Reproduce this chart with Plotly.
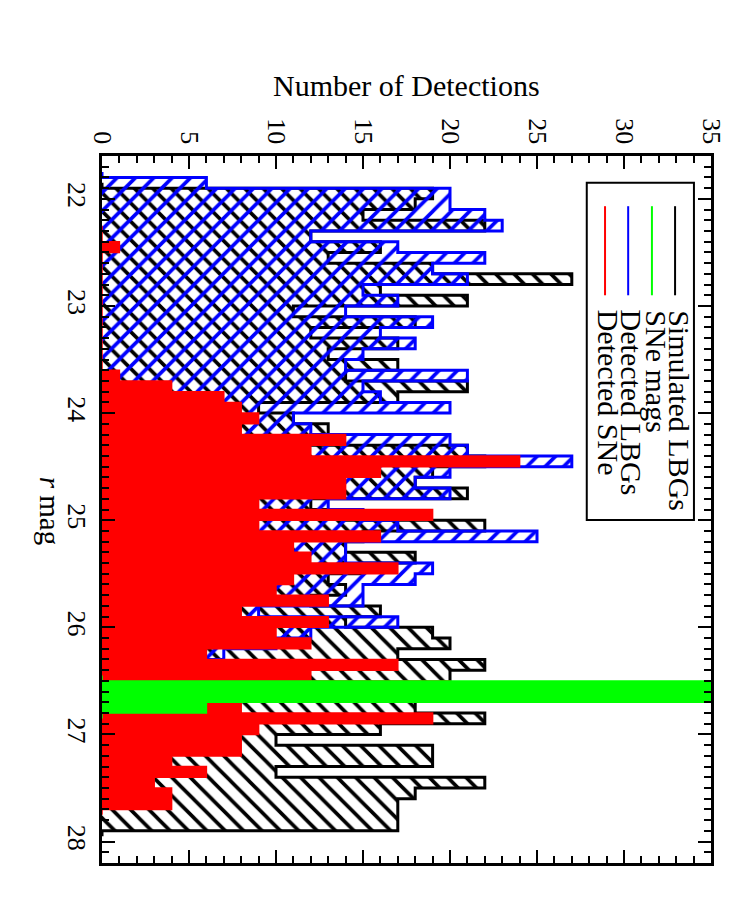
import numpy as np
import plotly.graph_objects as go

# histogram bin width in r mag; each series: lower edge of first bin + counts per bin
BIN = 0.1

lbg_sim_start = 21.9
lbg_sim_counts = [19, 18, 15, 22, 12, 16, 13, 19, 27, 16, 21, 11, 18, 12, 17, 13, 17, 14,
                  21, 17, 9, 11, 13, 12, 21, 22, 19, 18, 21, 12, 14, 22, 15, 14, 18, 15,
                  13, 14, 12, 16, 14, 19, 20, 17, 22, 20, 20, 18, 18, 22, 16, 10, 19, 19,
                  10, 22, 18, 17, 17, 17]

lbg_det_start = 21.8
lbg_det_counts = [6, 20, 20, 22, 23, 12, 17, 22, 19, 21, 15, 17, 14, 19, 16, 18, 15, 14,
                  21, 15, 16, 20, 11, 12, 20, 21, 27, 20, 18, 20, 13, 15, 17, 25, 14, 14,
                  19, 18, 15, 15, 9, 17, 12, 10, 7, 4, 2]

sne_mag_start = 26.5
sne_mag_counts = [60, 60, 6]

sne_det_start = 22.3
sne_det_counts = [0, 1, 0, 0, 0, 0, 0, 0, 0, 0, 0, 0, 0, 1, 4, 7, 8, 9, 8, 14, 12, 24,
                  16, 14, 14, 9, 19, 9, 16, 11, 12, 17, 11, 10, 13, 8, 13, 10, 12, 6,
                  17, 12, 20, 15, 8, 19, 9, 8, 8, 4, 6, 3, 4, 4]

FONT = "Liberation Serif"


def step_hist(start, counts, **kw):
    """Outlined step histogram (horizontal, counts along x) drawn as a filled scatter."""
    n = len(counts)
    centers = start + BIN / 2 + BIN * np.arange(n)
    y = np.concatenate([[centers[0] - BIN], centers, [centers[-1] + BIN]])
    x = [0] + list(counts) + [0]
    return go.Scatter(x=x, y=y, mode="lines", fill="tozerox",
                      hoverinfo="skip", showlegend=False, **kw)


fig = go.Figure()

fig.add_trace(step_hist(
    lbg_sim_start, lbg_sim_counts,
    line=dict(color="black", width=3, shape="vhv"),
    fillcolor="rgba(0,0,0,0)",
    fillpattern=dict(shape="\\", fgcolor="black", bgcolor="rgba(0,0,0,0)",
                     fillmode="replace", size=13, solidity=0.28),
))
fig.add_trace(step_hist(
    lbg_det_start, lbg_det_counts,
    line=dict(color="#0000ff", width=3, shape="vhv"),
    fillcolor="rgba(0,0,0,0)",
    fillpattern=dict(shape="/", fgcolor="#0000ff", bgcolor="rgba(0,0,0,0)",
                     fillmode="replace", size=13, solidity=0.28),
))
fig.add_trace(step_hist(
    sne_det_start, sne_det_counts,
    line=dict(color="#ff0000", width=1.5, shape="vhv"),
    fillcolor="#ff0000",
))
fig.add_trace(step_hist(
    sne_mag_start, sne_mag_counts,
    line=dict(color="#00ff00", width=1.5, shape="vhv"),
    fillcolor="#00ff00",
))

axis_common = dict(
    showline=True, linecolor="black", linewidth=2.5, mirror="allticks",
    ticks="inside", ticklen=13, tickwidth=2, tickcolor="black",
    showgrid=False, zeroline=False, tickangle=90,
    tickfont=dict(family=FONT, size=26, color="black"),
)

fig.update_xaxes(range=[0, 35], side="top", dtick=5, tick0=0,
                 minor=dict(dtick=1, ticks="inside", ticklen=7, tickwidth=2,
                            tickcolor="black"),
                 **axis_common)
fig.update_yaxes(range=[28.2, 21.6], dtick=1, tick0=22,
                 minor=dict(dtick=0.1, ticks="inside", ticklen=7, tickwidth=2,
                            tickcolor="black"),
                 **axis_common)

# hand-made legend (rotated like the rest of the page)
legend_items = [("Simulated LBGs", "black"), ("SNe mags", "#00ff00"),
                ("Detected LBGs", "#0000ff"), ("Detected SNe", "#ff0000")]
line_x = [0.941, 0.903, 0.864, 0.826]
shapes = [dict(type="rect", xref="paper", yref="paper", x0=0.796, x1=0.972,
               y0=0.485, y1=0.962, line=dict(color="black", width=2),
               fillcolor="white", layer="above")]
annotations = []
for (label, color), lx in zip(legend_items, line_x):
    shapes.append(dict(type="line", xref="paper", yref="paper", x0=lx, x1=lx,
                       y0=0.803, y1=0.929, line=dict(color=color, width=2),
                       layer="above"))
    annotations.append(dict(text=label, xref="paper", yref="paper", x=lx + 0.007,
                            y=0.785, xanchor="center", yanchor="top", textangle=90,
                            showarrow=False,
                            font=dict(family=FONT, size=30, color="black")))

annotations.append(dict(text="Number of Detections", xref="paper", yref="paper",
                        x=0.5, y=1.1, xanchor="center", yanchor="middle",
                        showarrow=False, font=dict(family=FONT, size=30, color="black")))
annotations.append(dict(text="<i>r</i> mag", xref="paper", yref="paper",
                        x=-0.085, y=0.498, xanchor="center", yanchor="middle",
                        textangle=90, showarrow=False,
                        font=dict(family=FONT, size=29, color="black")))

fig.update_layout(
    width=750, height=900,
    margin=dict(l=94, r=47, t=148, b=45),
    paper_bgcolor="white", plot_bgcolor="white",
    showlegend=False,
    shapes=shapes, annotations=annotations,
)

fig.write_html("out.html")
